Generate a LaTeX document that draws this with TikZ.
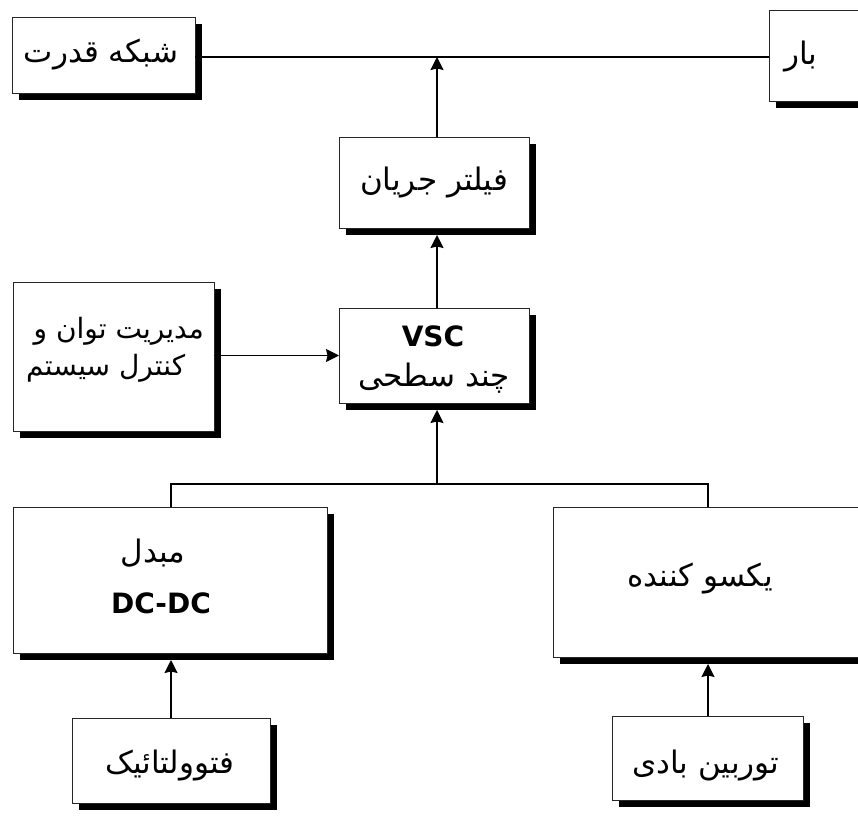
\documentclass[tikz,border=0pt]{standalone}
\usepackage{fontspec}
\setmainfont{DejaVu Sans}
\newfontfamily\arabicfont[Script=Arabic]{DejaVu Sans}
\TeXXeTstate=1
\usetikzlibrary{arrows.meta,shadows}
\begin{document}
\begin{tikzpicture}[x=1pt,y=-1pt,
  box/.style={draw=black!85, line width=0.9pt, fill=white, inner sep=0pt, outer sep=0pt,
    drop shadow={shadow xshift=7pt, shadow yshift=-7pt, fill=black, opacity=1}},
  lbl/.style={font=\arabicfont\fontsize{31}{36}\selectfont, inner sep=0pt},
  lblsmall/.style={font=\arabicfont\fontsize{28}{32}\selectfont, inner sep=0pt},
  latin/.style={font=\bfseries\fontsize{28}{32}\selectfont, inner sep=0pt},
  conn/.style={line width=1.2pt},
  arr/.style={conn, -{Stealth[length=13pt,width=13pt,inset=1.5pt]}}]
\useasboundingbox[fill=white] (0,0) rectangle (858,816);
% boxes
\node[box, minimum width=183pt, minimum height=76pt] (grid) at (103.5,55) {};
\node[box, minimum width=97pt, minimum height=91pt] (load) at (817.5,55.5) {};
\node[box, minimum width=190pt, minimum height=91pt] (filt) at (434,182.5) {};
\node[box, minimum width=190pt, minimum height=95pt] (vsc) at (434,355.5) {};
\node[box, minimum width=201pt, minimum height=149pt] (ctrl) at (113.5,356.5) {};
\node[box, minimum width=314pt, minimum height=146pt] (dcdc) at (170,580) {};
\node[box, minimum width=313pt, minimum height=150pt] (rect) at (709.5,582) {};
\node[box, minimum width=198pt, minimum height=85pt] (pv) at (171,760.5) {};
\node[box, minimum width=191pt, minimum height=84pt] (wind) at (707.5,758) {};
% labels
\node[lbl] (tgrid) at (101,55) {\beginR شبکه قدرت\endR};
\node[lbl] (tload) at (801,57) {\beginR بار\endR};
\node[lbl] (tfilt) at (434,183) {\beginR فیلتر جریان\endR};
\node[latin] (tvsc) at (433,336) {VSC};
\node[lbl] (tvsc2) at (434,378) {\beginR چند سطحی\endR};
\node[lblsmall, anchor=east] (tctrl1) at (204,331) {\beginR مدیریت توان و\endR};
\node[lblsmall, anchor=west] (tctrl2) at (26,368) {\beginR کنترل سیستم\endR};
\node[lbl] (tdc1) at (153,553) {\beginR مبدل\endR};
\node[latin] (tdc2) at (161,603) {DC-DC};
\node[lbl] (trect) at (700,578) {\beginR یکسو کننده\endR};
\node[lbl] (tpv) at (170,765) {\beginR فتوولتائیک\endR};
\node[lbl] (twind) at (706,765) {\beginR توربین بادی\endR};
% connectors
\coordinate (top) at (437,57);
\coordinate (bus) at (437,484);
\coordinate (busl) at (171,484);
\coordinate (busr) at (708,484);
\draw[conn] (grid.east |- top) -- (load.west |- top);
\draw[arr] (filt.north -| top) -- (top);
\draw[arr] (vsc.north -| top) -- ([yshift=-7pt]filt.south -| top);
\draw[arr] (ctrl.east |- vsc.center) -- (vsc.west);
\draw[conn] (dcdc.north -| busl) -- (busl) -- (busr) -- (rect.north -| busr);
\draw[arr] (bus) -- ([yshift=-7pt]vsc.south -| bus);
\draw[arr] (pv.north -| busl) -- ([yshift=-7pt]dcdc.south -| busl);
\draw[arr] (wind.north -| busr) -- ([yshift=-7pt]rect.south -| busr);
\end{tikzpicture}
\end{document}
